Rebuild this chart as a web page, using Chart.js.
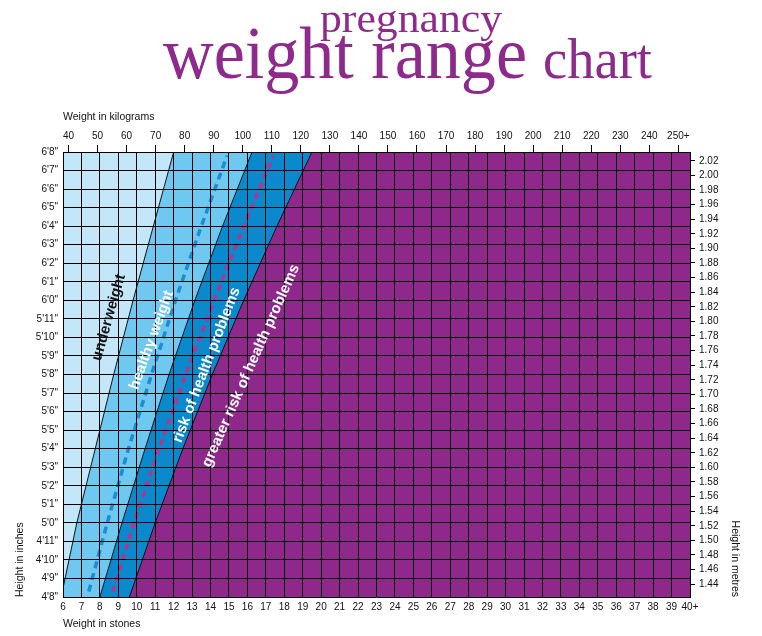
<!DOCTYPE html>
<html>
<head>
<meta charset="utf-8">
<title>pregnancy weight range chart</title>
<script src="https://cdn.jsdelivr.net/npm/chart.js@4.4.1/dist/chart.umd.min.js"></script>
<style>
  html, body { margin: 0; padding: 0; background: #fff; }
  #wrap { position: relative; width: 762px; height: 636px; }
</style>
</head>
<body>
<div id="wrap"><canvas id="weightChart"></canvas></div>
<script>
const KG_PER_STONE = 6.35029;
const M_PER_INCH = 0.0254;

// tick labels
const stoneLabels = ['6', '7', '8', '9', '10', '11', '12', '13', '14', '15', '16', '17', '18', '19', '20',
  '21', '22', '23', '24', '25', '26', '27', '28', '29', '30', '31', '32', '33', '34', '35', '36', '37', '38', '39', '40+'];
const kgTicks = [40, 50, 60, 70, 80, 90, 100, 110, 120, 130, 140, 150, 160, 170, 180, 190, 200, 210, 220, 230, 240, 250];
const kgLabels = ['40', '50', '60', '70', '80', '90', '100', '110', '120', '130', '140', '150', '160', '170', '180',
  '190', '200', '210', '220', '230', '240', '250+'];
const heightLabels = ['4\'8"', '4\'9"', '4\'10"', '4\'11"', '5\'0"', '5\'1"', '5\'2"', '5\'3"', '5\'4"', '5\'5"', '5\'6"',
  '5\'7"', '5\'8"', '5\'9"', '5\'10"', '5\'11"', '6\'0"', '6\'1"', '6\'2"', '6\'3"', '6\'4"', '6\'5"', '6\'6"', '6\'7"', '6\'8"'];
const metreTicks = [1.44, 1.46, 1.48, 1.50, 1.52, 1.54, 1.56, 1.58, 1.60, 1.62, 1.64, 1.66, 1.68, 1.70, 1.72, 1.74,
  1.76, 1.78, 1.80, 1.82, 1.84, 1.86, 1.88, 1.90, 1.92, 1.94, 1.96, 1.98, 2.00, 2.02];

// band boundaries: weight in stones at each height (inches)
const lineHeights = [56, 60, 64, 68, 72, 76, 80];
const underweightEdge = [5.9, 6.75, 7.75, 8.75, 9.8, 10.9, 12.0];
const healthyEdge = [8.0, 9.2, 10.45, 11.75, 13.15, 14.65, 16.25];
const riskEdge = [9.6, 11.0, 12.5, 14.1, 15.8, 17.6, 19.5];

// dashed guide lines
const dashHeights = [56.3, 60, 64, 68, 72, 76, 79.8];
const healthyMid = [7.4, 8.4, 9.55, 10.8, 12.1, 13.5, 14.9];
const riskMid = [8.7, 9.85, 11.2, 12.65, 14.2, 15.8, 17.4];

const bandNames = ['underweight', 'healthy weight', 'risk of health problems', 'greater risk of health problems'];

const X_MIN = 6, X_MAX = 40, Y_MIN = 56, Y_MAX = 80;
const colors = {
  under: '#c3e6f8',
  healthy: '#6ec8ef',
  risk: '#0a89cd',
  greater: '#8f288b',
  blueDash: '#1b8dd4',
  pinkDash: '#b3358f',
  title: '#8e2a8c'
};

const pts = (ws, hs) => ws.map((w, i) => ({ x: w, y: hs[i] }));
// region to the right of an edge, closed back on itself
const band = ws => {
  const p = pts(ws, lineHeights);
  return p.concat([{ x: X_MAX, y: Y_MAX }, { x: X_MAX, y: Y_MIN }, p[0]]);
};

const fillSet = (data, color, order) => ({
  data, order, fill: 'shape', backgroundColor: color, borderWidth: 0, pointRadius: 0, tension: 0
});
const edgeSet = (data, order) => ({
  data, order, fill: false, borderColor: '#111', borderWidth: 1, pointRadius: 0
});
const dashSet = (data, color, width, dash, order) => ({
  data, order, fill: false, borderColor: color, borderWidth: width, borderDash: dash, pointRadius: 0
});

// label placement (stones, inches, degrees)
const bandLabelPos = [
  { x: 8.49, y: 71.08, a: -74, color: '#111' },
  { x: 10.81, y: 69.86, a: -70, color: '#fff' },
  { x: 13.79, y: 68.51, a: -69, color: '#fff' },
  { x: 16.19, y: 68.47, a: -66, color: '#fff' }
];

const titleParts = [
  { text: 'pregnancy', x: 320, y: 32, size: 40, width: 182 },
  { text: 'weight range', x: 163, y: 78, size: 74, width: 364 },
  { text: 'chart', x: 543, y: 78, size: 58, width: 109 }
];

const decorations = {
  id: 'decorations',
  beforeDraw(chart) {
    const { ctx, chartArea: a } = chart;
    ctx.save();
    ctx.fillStyle = colors.under;
    ctx.fillRect(a.left, a.top, a.right - a.left, a.bottom - a.top);
    ctx.restore();
  },
  afterDraw(chart) {
    const { ctx, scales } = chart;
    ctx.save();
    // big serif heading
    ctx.fillStyle = colors.title;
    ctx.textBaseline = 'alphabetic';
    ctx.textAlign = 'left';
    titleParts.forEach(t => {
      ctx.font = `${t.size}px "Liberation Serif", "DejaVu Serif", serif`;
      const w = ctx.measureText(t.text).width;
      ctx.save();
      ctx.translate(t.x, t.y);
      ctx.scale(t.width / w, 1);
      ctx.fillText(t.text, 0, 0);
      ctx.restore();
    });
    // band names
    ctx.font = 'bold 15px "Liberation Sans", Arial, sans-serif';
    ctx.textAlign = 'center';
    ctx.textBaseline = 'middle';
    bandNames.forEach((name, i) => {
      const p = bandLabelPos[i];
      ctx.save();
      ctx.translate(scales.x.getPixelForValue(p.x), scales.y.getPixelForValue(p.y));
      ctx.rotate(p.a * Math.PI / 180);
      ctx.fillStyle = p.color;
      ctx.fillText(name, 0, 0);
      ctx.restore();
    });
    ctx.restore();
  }
};

Chart.defaults.font.family = '"Liberation Sans", Arial, sans-serif';
Chart.defaults.font.size = 10;
Chart.defaults.color = '#111';

const ctx = document.getElementById('weightChart').getContext('2d');
new Chart(ctx, {
  type: 'line',
  data: {
    datasets: [
      dashSet(pts(riskMid, dashHeights), colors.pinkDash, 3.5, [6, 5], 1),
      dashSet(pts(healthyMid, dashHeights), colors.blueDash, 3.5, [7, 5], 1),
      edgeSet(pts(riskEdge, lineHeights), 2),
      edgeSet(pts(healthyEdge, lineHeights), 2),
      edgeSet(pts(underweightEdge, lineHeights), 2),
      fillSet(band(riskEdge), colors.greater, 3),
      fillSet(band(healthyEdge), colors.risk, 4),
      fillSet(band(underweightEdge), colors.healthy, 5)
    ]
  },
  options: {
    responsive: true,
    maintainAspectRatio: false,
    animation: false,
    layout: { padding: 0 },
    plugins: {
      legend: { display: false },
      tooltip: { enabled: false }
    },
    scales: {
      x: {
        type: 'linear', position: 'bottom', min: X_MIN, max: X_MAX,
        afterFit: s => { s.height = 39; },
        ticks: { stepSize: 1, autoSkip: false, maxRotation: 0, padding: 4, callback: (v, i) => stoneLabels[i] },
        grid: { color: '#000', lineWidth: 1, drawTicks: false, z: 1 },
        border: { display: false },
        title: { display: true, text: 'Weight in stones', align: 'start', font: { size: 10.5 }, padding: { bottom: 6 } }
      },
      x2: {
        type: 'linear', position: 'top', min: X_MIN, max: X_MAX,
        afterFit: s => { s.height = 152; },
        afterBuildTicks: s => { s.ticks = kgTicks.map(k => ({ value: k / KG_PER_STONE })); },
        ticks: { autoSkip: false, maxRotation: 0, padding: 3, callback: (v, i) => kgLabels[i] },
        grid: { color: '#000', lineWidth: 1, drawOnChartArea: false, tickLength: 7 },
        border: { color: '#000', width: 1 },
        title: { display: true, text: 'Weight in kilograms', align: 'start', font: { size: 10.5 }, padding: { top: 111 } }
      },
      y: {
        type: 'linear', position: 'left', min: Y_MIN, max: Y_MAX,
        afterFit: s => { s.width = 63; },
        ticks: { stepSize: 1, autoSkip: false, padding: 5, callback: (v, i) => heightLabels[i] },
        grid: { color: '#000', lineWidth: 1, drawTicks: false, z: 1 },
        border: { display: false },
        title: { display: true, text: 'Height in inches', align: 'start', font: { size: 10.5 }, padding: { top: 14 } }
      },
      y2: {
        type: 'linear', position: 'right', min: Y_MIN, max: Y_MAX,
        afterFit: s => { s.width = 72; },
        afterBuildTicks: s => { s.ticks = metreTicks.map(m => ({ value: m / M_PER_INCH })); },
        ticks: { autoSkip: false, padding: 4, callback: (v, i) => metreTicks[i].toFixed(2) },
        grid: { color: '#000', lineWidth: 1, drawOnChartArea: false, tickLength: 5 },
        border: { color: '#000', width: 1 },
        title: { display: true, text: 'Height in metres', align: 'start', font: { size: 10.5 }, padding: { top: 21 } }
      }
    }
  },
  plugins: [decorations]
});
</script>
</body>
</html>
